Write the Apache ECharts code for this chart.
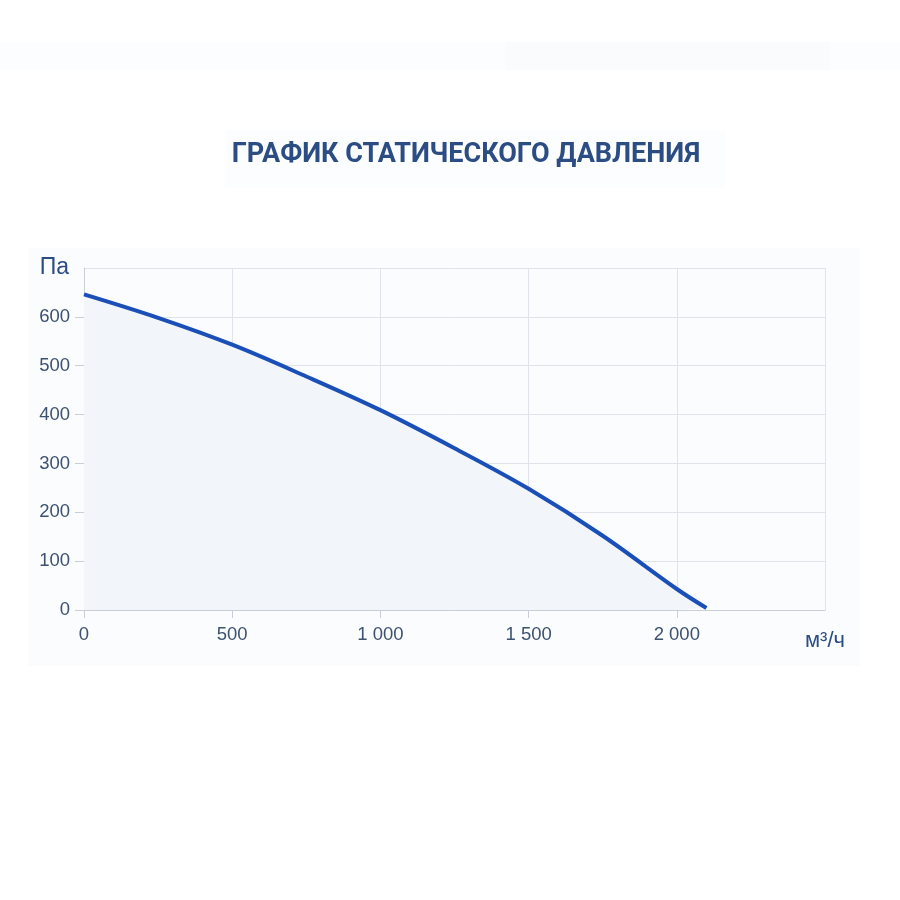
<!DOCTYPE html>
<html><head><meta charset="utf-8">
<script src="https://cdn.jsdelivr.net/npm/echarts@6/dist/echarts.min.js"></script>
<style>html,body{margin:0;padding:0;background:#fff}#c{width:900px;height:900px}</style>
</head><body><div id="c"></div>
<script>
const titleText = 'ГРАФИК СТАТИЧЕСКОГО ДАВЛЕНИЯ';
const flow = [0, 250, 500, 750, 1000, 1250, 1500, 1750, 2000, 2100];
const pressure = [646, 598, 543, 478, 409, 331, 248, 152, 43, 4];
const xUnit = 'м³/ч';
const yUnit = 'Па';

const chart = echarts.init(document.getElementById('c'));
const fmt = v => String(v).replace(/\B(?=(\d{3})+(?!\d))/g, ' ');
const lab = 'Liberation Sans';
chart.setOption({
  backgroundColor: '#ffffff',
  animation: false,
  graphic: [
    {type:'rect', shape:{x:0,y:42,width:900,height:28}, style:{fill:'#fcfdfe'}, silent:true, z:-10},
    {type:'rect', shape:{x:505,y:42,width:325,height:28}, style:{fill:'#f9fbfd'}, silent:true, z:-9},
    {type:'rect', shape:{x:225,y:130,width:500,height:58}, style:{fill:'#fcfdfe'}, silent:true, z:-10},
    {type:'rect', shape:{x:28,y:248,width:832,height:418}, style:{fill:'#fbfcfe'}, silent:true, z:-10}
  ],
  title: {
    text: titleText,
    left: 461, top: 137, textAlign: 'center',
    textStyle: {fontFamily:'Roboto', fontWeight:'bold', fontSize:27, color:'#2b4d84'}
  },
  grid: {left:84, right:75, top:268, bottom:290, containLabel:false},
  xAxis: {
    type:'value', min:0, max:2500, interval:500,
    name: xUnit, nameLocation:'end', nameGap:0,
    nameTextStyle:{align:'center', verticalAlign:'top', padding:[20,0,0,0], fontSize:22, color:'#2b4d84', fontFamily:lab},
    axisLine:{show:true, lineStyle:{color:'#c9ced8', width:1}},
    axisTick:{show:true, length:8, lineStyle:{color:'#c9ced8'}},
    axisLabel:{margin:15, fontSize:18.5, color:'#3d5170', fontFamily:lab, showMaxLabel:false, formatter: v => fmt(v)},
    splitLine:{show:true, lineStyle:{color:'#dfe3ea', width:1}}
  },
  yAxis: {
    type:'value', min:0, max:700, interval:100,
    name: yUnit, nameLocation:'end', nameGap:0,
    nameTextStyle:{align:'right', verticalAlign:'middle', padding:[0,15,0,0], fontSize:23, color:'#2b4d84', fontFamily:lab},
    axisLine:{show:true, lineStyle:{color:'#c9ced8', width:1}},
    axisTick:{show:true, length:9, lineStyle:{color:'#c9ced8'}},
    axisLabel:{margin:14, fontSize:18.5, color:'#3d5170', fontFamily:lab, showMaxLabel:false},
    splitLine:{show:true, lineStyle:{color:'#dfe3ea', width:1}}
  },
  series: [{
    type:'line',
    data: flow.map((x,i)=>[x, pressure[i]]),
    smooth: 0.35,
    showSymbol:false,
    lineStyle:{color:'#1a4fb8', width:4},
    areaStyle:{color:'#f2f5fa', opacity:1}
  }]
});
</script></body></html>
